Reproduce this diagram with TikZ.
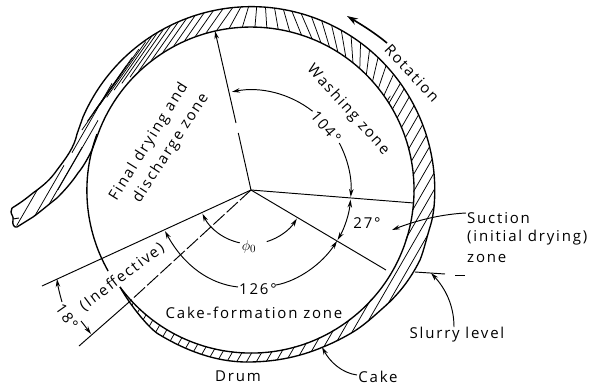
\documentclass[tikz,border=0pt]{standalone}
\usepackage{fontspec}
\setmainfont[LetterSpace=12]{Open Sans}
\usetikzlibrary{arrows.meta}
\tikzset{
  x=1pt,y=-1pt,
  thin line/.style={line width=0.95pt},
  edge line/.style={line width=1.35pt,line join=round},
  hatch line/.style={line width=0.75pt},
  tip/.style={-{Stealth[length=8pt,width=4.5pt]},line width=0.95pt},
  twotip/.style={{Stealth[length=8pt,width=4.5pt]}-{Stealth[length=8pt,width=4.5pt]},line width=0.95pt},
  lab/.style={inner sep=0pt,font=\fontsize{15}{18}\selectfont},
}
\def\bandpath{
  (12,208) .. controls (22,202) and (28,197) .. (33,193)
  .. controls (44,185) and (50,180) .. (57,170)
  .. controls (66,158) and (74,148) .. (77,134) -- (83,117)
  arc[start angle=156.5,end angle=-5,radius=183.5pt]
  .. controls (433,217) and (431,224) .. (430,227)
  .. controls (426,240) and (424,250) .. (420,260)
  .. controls (410,280) and (398,295) .. (383,308)
  .. controls (373,317) and (363,326) .. (353,332)
  .. controls (343,338) and (333,343) .. (323,347)
  .. controls (297,358) and (272,362) .. (247,362)
  .. controls (215,362) and (185,350) .. (160,335)
  .. controls (150,330) and (130,305) .. (122,290)
  arc[start angle=-142,end angle=159.7,radius=163pt]
  -- (92,150) .. controls (87,160) and (83,167) .. (78,173)
  .. controls (72,182) and (65,190) .. (57,198)
  .. controls (48,205) and (40,212) .. (33,217)
  -- (17,227) -- cycle
}
\begin{document}
\begin{tikzpicture}
\useasboundingbox (0,0) rectangle (591,389);
\coordinate (C) at (251,190);
% hatching
\begin{scope}
  \clip \bandpath;
  \begin{scope}[shift={(251,190)}]
    \foreach \a in {34,37.4,...,150}{
      \pgfmathsetmacro\d{\a>=97 ? 55 : (\a>=87 ? 55+(97-\a)*3.5 : (\a>=73 ? 90+(87-\a)*1.8 : (\a>=58 ? 115-(73-\a) : 100-(58-\a)*1.67)))}
      \draw[hatch line,shift={(\a:173.5pt)}] (\d:34pt) -- (\d+180:34pt);
    }
    \begin{scope}
      \clip (0,0) -- (34:400pt) -- (0:500pt) -- (-90:500pt) -- (-165:500pt) -- cycle;
      \foreach \t in {-190,-181.5,...,190}{
        \draw[hatch line,shift={(-30:\t pt)}] (60:260pt) -- (240:260pt);
      }
    \end{scope}
  \end{scope}
  \foreach \p in {(28,206),(44,200),(62,182),(78,155),(92,118)}{
    \draw[hatch line,shift={\p}] (60:40pt) -- (240:40pt);
  }
\end{scope}
% band outlines
\draw[edge line] (12,208) .. controls (22,202) and (28,197) .. (33,193)
  .. controls (44,185) and (50,180) .. (57,170)
  .. controls (66,158) and (74,148) .. (77,134) -- (83,117)
  arc[start angle=156.5,end angle=-5,radius=183.5pt]
  .. controls (433,217) and (431,224) .. (430,227)
  .. controls (426,240) and (424,250) .. (420,260)
  .. controls (410,280) and (398,295) .. (383,308)
  .. controls (373,317) and (363,326) .. (353,332)
  .. controls (343,338) and (333,343) .. (323,347)
  .. controls (297,358) and (272,362) .. (247,362)
  .. controls (215,362) and (185,350) .. (160,335)
  .. controls (150,330) and (130,305) .. (120,287);
\draw[edge line] (120,287) arc[start angle=-143.5,end angle=159.7,radius=163pt]
  -- (92,150) .. controls (87,160) and (83,167) .. (78,173)
  .. controls (72,182) and (65,190) .. (57,198)
  .. controls (48,205) and (40,212) .. (33,217) -- (17,227)
  .. controls (14,228) and (12,224) .. (13,220)
  .. controls (14,217) and (11,214) .. (11,212) -- (12,208);
\draw[edge line] (97,134) arc[start angle=159.7,end angle=209.6,radius=163pt];
\draw[thin line] (13,219) -- (19,218);
% radial lines
\coordinate (Top) at (215,31);
\coordinate (Rgt) at (414,203);
\coordinate (LR) at (386,270);
\coordinate (LL) at (42,286);
\coordinate (DD) at (128,303);
\coordinate (DE) at (79,346);
\draw[thin line] (C) -- (238.3,133);
\draw[tip] (236,123) -- (Top);
\draw[thin line] (C) -- (Rgt);
\draw[thin line] (C) -- (LR);
\draw[thin line] (C) -- (LL);
\draw[thin line,dash pattern=on 15pt off 3pt] (C) -- (DD);
\draw[thin line] (DD) -- (DE);
% angle arcs
\begin{scope}[shift={(251,190)}]
  \draw[tip] (52:100pt) arc[start angle=52,end angle=101,radius=100pt];
  \draw[tip] (28:100pt) arc[start angle=28,end angle=-4,radius=100pt];
  \draw[twotip] (-5.5:100pt) arc[start angle=-5.5,end angle=-30,radius=100pt];
  \draw[tip] (-102:54pt) arc[start angle=-102,end angle=-154,radius=54pt];
  \draw[tip] (-73:54pt) arc[start angle=-73,end angle=-32,radius=54pt];
\end{scope}
\draw[tip] (238,287) .. controls (210,284) and (184,266) .. (165,231);
\draw[tip] (276,285) .. controls (298,281) and (322,264) .. (337,241);
\draw[tip] (62,302) .. controls (60,295) and (58,287) .. (57,279);
\draw[tip] (81,321) .. controls (85,326) and (88,330) .. (91,334);
% rotation arrow
\coordinate (RotA) at (387,43);
\coordinate (RotB) at (347,16);
\draw[-{Stealth[length=11pt,width=7pt]},line width=1.6pt] (RotA) .. controls (375,33) and (362,25) .. (RotB);
% leaders
\coordinate (SuA) at (466,213);
\coordinate (SuB) at (392,230);
\draw[tip] (SuA) .. controls (445,214) and (420,219) .. (SuB);
\draw[thin line] (415,272) -- (445,274);
\draw[thin line] (455,275) -- (465,275);
\coordinate (SlA) at (454,327);
\coordinate (SlB) at (431,273);
\draw[tip] (SlA) .. controls (454,305) and (445,288) .. (SlB);
\coordinate (CaA) at (357,375);
\coordinate (CaB) at (322,347);
\draw[tip] (CaA) .. controls (342,373) and (330,362) .. (CaB);
% labels
\node[lab,rotate=58] (t1) at (149,142) {Final drying and};
\node[lab,rotate=57] (t2) at (171,148) {discharge zone};
\node[lab,rotate=-48] (t3) at (348,110) {Washing zone};
\node[lab,rotate=-47] (t4) at (412,73) {Rotation};
\node[lab,rotate=-50] (t5) at (326,127) {104°};
\node[lab] (t6) at (367,223) {27°};
\node[lab] (t7) at (258,289) {126°};
\node[lab] (t8) at (254,313) {Cake-formation zone};
\node[lab] (t9) at (249,247) {$\phi_0$};
\node[lab,rotate=-55] (t10) at (67,317) {18°};
\node[lab,rotate=37] (t11) at (122,277) {(Ineffective)};
\node[lab,anchor=west] (t12) at (467,218) {Suction};
\node[lab,anchor=west] (t13) at (467,238) {(initial drying)};
\node[lab,anchor=west] (t14) at (467,258) {zone};
\node[lab] (t15) at (457,335) {Slurry level};
\node[lab] (t16) at (378,377) {Cake};
\node[lab] (t17) at (238,376) {Drum};
\end{tikzpicture}
\end{document}
